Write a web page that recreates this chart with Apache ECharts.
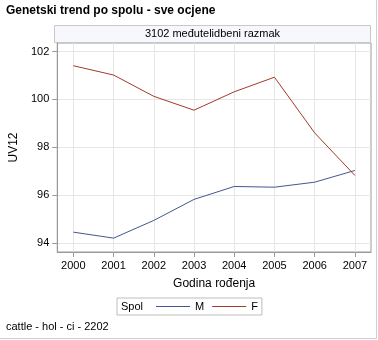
<!DOCTYPE html>
<html>
<head>
<meta charset="utf-8">
<script src="https://cdn.jsdelivr.net/npm/echarts@6/dist/echarts.min.js"></script>
<style>
  html, body { margin: 0; padding: 0; background: #fff; }
  #chart { width: 378px; height: 340px; }
</style>
</head>
<body>
<div id="chart"></div>
<script>
// Birth years on the horizontal axis
var years = [2000, 2001, 2002, 2003, 2004, 2005, 2006, 2007];
// Genetic trend (UV12) by sex
var valuesM = [94.45, 94.20, 94.94, 95.82, 96.36, 96.33, 96.54, 97.03];
var valuesF = [101.41, 101.02, 100.13, 99.55, 100.32, 100.93, 98.60, 96.82];
// Value axis ticks
var yTicks = [94, 96, 98, 100, 102];

var FONT = '"Liberation Sans", Arial, sans-serif';
var chart = echarts.init(document.getElementById('chart'), null, { renderer: 'canvas' });

function pairs(vals) {
  return years.map(function (y, i) { return [y, vals[i]]; });
}

chart.setOption({
  animation: false,
  backgroundColor: '#fff',
  textStyle: { fontFamily: FONT },
  grid: {
    left: 54, right: 7, top: 43, bottom: 88,
    show: true, borderColor: '#9a9a9a', borderWidth: 1, backgroundColor: '#fff'
  },
  xAxis: {
    type: 'value',
    min: 1999.6, max: 2007.4,
    name: 'Godina rođenja',
    nameLocation: 'middle',
    nameGap: 26,
    nameTextStyle: { fontFamily: FONT, fontSize: 12, color: '#000' },
    axisLine: { show: true, onZero: false, lineStyle: { color: '#9a9a9a' } },
    axisTick: { show: true, length: 5, customValues: years, lineStyle: { color: '#9a9a9a' } },
    axisLabel: { customValues: years, fontFamily: FONT, fontSize: 11, color: '#000', margin: 8,
      formatter: function (v) { return String(v); } },
    splitLine: { show: true, lineStyle: { color: '#e6e6e6' } }
  },
  yAxis: {
    type: 'value',
    min: 93.62, max: 102.36,
    name: 'UV12',
    nameLocation: 'middle',
    nameGap: 27,
    nameTextStyle: { fontFamily: FONT, fontSize: 12, color: '#000' },
    axisLine: { show: true, lineStyle: { color: '#9a9a9a' } },
    axisTick: { show: true, length: 5, customValues: yTicks, lineStyle: { color: '#9a9a9a' } },
    axisLabel: { customValues: yTicks, fontFamily: FONT, fontSize: 11, color: '#000', margin: 8 },
    splitLine: { show: true, lineStyle: { color: '#e6e6e6' } }
  },
  legend: {
    left: 117, top: 298,
    padding: [3, 4, 3, 39],
    borderColor: '#bdbdbd', borderWidth: 1,
    itemWidth: 34, itemHeight: 10, itemGap: 8,
    textStyle: { fontFamily: FONT, fontSize: 11, color: '#000', padding: [0, 0, 0, 0] },
    data: [
      { name: 'M', icon: 'path://M0,5L34,5L34,6L0,6Z' },
      { name: 'F', icon: 'path://M0,5L34,5L34,6L0,6Z' }
    ]
  },
  series: [
    {
      name: 'M', type: 'line', data: pairs(valuesM),
      symbol: 'none', color: '#445694',
      lineStyle: { color: '#445694', width: 1 }
    },
    {
      name: 'F', type: 'line', data: pairs(valuesF),
      symbol: 'none', color: '#A23A2E',
      lineStyle: { color: '#A23A2E', width: 1 }
    }
  ],
  graphic: [
    // outer frame edges
    { type: 'line', shape: { x1: 376.5, y1: 0, x2: 376.5, y2: 338.5 }, style: { stroke: '#d0d0d0', lineWidth: 1 }, silent: true },
    { type: 'line', shape: { x1: 0, y1: 338.5, x2: 376.5, y2: 338.5 }, style: { stroke: '#d0d0d0', lineWidth: 1 }, silent: true },
    // chart title
    { type: 'text', left: 6, top: 5,
      style: { text: 'Genetski trend po spolu - sve ocjene', font: 'bold 12px ' + FONT, fill: '#000' } },
    // header band above the plot
    { type: 'rect', shape: { x: 54.5, y: 25.5, width: 316, height: 17 },
      style: { fill: '#f7f8fe', stroke: '#c8c8c8', lineWidth: 1 }, silent: true },
    { type: 'text', x: 212.5, y: 34, style: { text: '3102 međutelidbeni razmak', font: '11px ' + FONT,
      fill: '#000', align: 'center', verticalAlign: 'middle' } },
    // legend title
    { type: 'text', x: 121, y: 306.5, style: { text: 'Spol', font: '11px ' + FONT, fill: '#000',
      verticalAlign: 'middle' } },
    // footnote
    { type: 'text', left: 6, top: 321, style: { text: 'cattle - hol - ci - 2202', font: '11px ' + FONT, fill: '#000' } }
  ]
});
</script>
</body>
</html>
